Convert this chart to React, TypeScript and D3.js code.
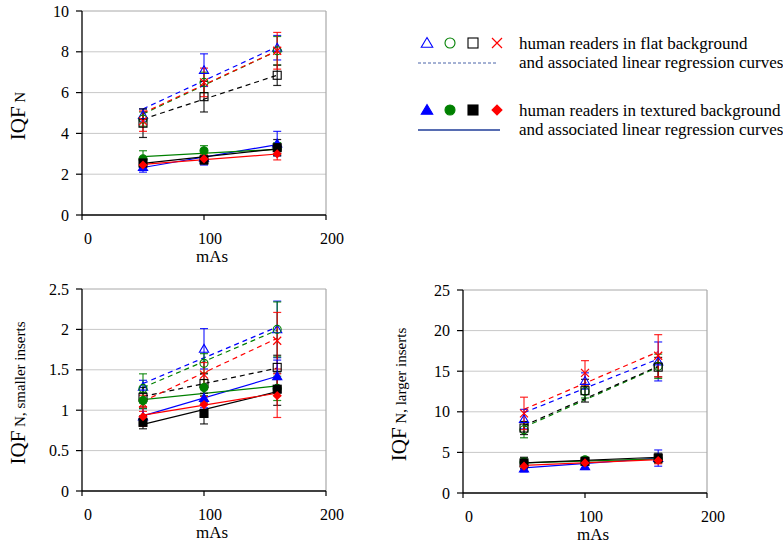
import React from "react";
import * as d3 from "d3";

// x positions (mAs) of the measured points and of the regression line ends
const mAs = [50, 100, 160];
const regEnds = [50, 160];
const xTicks = [0, 100, 200];

// series order in every array: blue, green, black, red
const seriesColors = ["#0000ff", "#008000", "#000000", "#ff0000"];
const flatShapes = ["triangle", "circle", "square", "cross"];
const texShapes = ["triangleFill", "circleFill", "squareFill", "diamondFill"];

// top panel: IQF N
const allFlat = [[4.9, 7.1, 8.2], [4.7, 6.5, 8.05], [4.5, 5.8, 6.85], [4.6, 6.5, 8.05]];
const allFlatErr = [[0.3, 0.8, 0.6], [0.35, 0.5, 0.7], [0.7, 0.75, 0.5], [0.5, 0.7, 0.9]];
const allFlatReg = [[5.2, 8.25], [4.95, 8.05], [4.7, 6.85], [5.0, 8.05]];
const allTex = [[2.35, 2.8, 3.5], [2.75, 3.15, 3.25], [2.55, 2.7, 3.3], [2.45, 2.75, 3.0]];
const allTexErr = [[0.25, 0.35, 0.6], [0.4, 0.25, 0.3], [0.2, 0.2, 0.4], [0.25, 0.2, 0.3]];
const allTexReg = [[2.33, 3.45], [2.86, 3.22], [2.53, 3.24], [2.48, 2.99]];
const allYTicks = [0, 2, 4, 6, 8, 10];

// bottom left: smaller inserts
const smallFlat = [[1.29, 1.76, 2.0], [1.27, 1.58, 2.0], [1.16, 1.33, 1.53], [1.085, 1.44, 1.86]];
const smallFlatErr = [[0.08, 0.25, 0.35], [0.18, 0.12, 0.34], [0.12, 0.12, 0.15], [0.1, 0.15, 0.35]];
const smallFlatReg = [[1.33, 2.03], [1.28, 1.99], [1.17, 1.52], [1.11, 1.89]];
const smallTex = [[0.92, 1.15, 1.42], [1.12, 1.28, 1.27], [0.85, 0.96, 1.26], [0.92, 1.07, 1.18]];
const smallTexErr = [[0.1, 0.12, 0.2], [0.1, 0.1, 0.15], [0.08, 0.13, 0.2], [0.12, 0.1, 0.27]];
const smallTexReg = [[0.93, 1.42], [1.13, 1.3], [0.825, 1.23], [0.94, 1.21]];
const smallYTicks = [0, 0.5, 1, 1.5, 2, 2.5];

// bottom right: larger inserts
const largeFlat = [[9.1, 13.8, 16.2], [7.8, 12.5, 15.6], [8.0, 12.6, 15.5], [9.8, 14.8, 16.9]];
const largeFlatErr = [[1.2, 1.0, 2.4], [1.0, 0.8, 1.5], [0.8, 1.4, 1.2], [2.0, 1.5, 2.6]];
const largeFlatReg = [[9.9, 16.5], [8.1, 15.5], [8.3, 15.6], [10.3, 17.4]];
const largeTex = [[3.0, 3.3, 4.3], [3.8, 4.1, 4.2], [3.7, 3.9, 4.3], [3.3, 3.7, 4.0]];
const largeTexErr = [[0.4, 0.4, 1.0], [0.5, 0.3, 0.5], [0.7, 0.4, 0.6], [0.5, 0.3, 0.4]];
const largeTexReg = [[3.1, 4.3], [3.7, 4.2], [3.7, 4.4], [3.4, 4.1]];
const largeYTicks = [0, 5, 10, 15, 20, 25];

const font = "Liberation Serif, Times New Roman, serif";

const Marker = ({ shape, cx, cy, color, s = 4 }) => {
  switch (shape) {
    case "triangle":
    case "triangleFill": {
      const p = `M${cx},${cy - s * 1.1}L${cx + s * 1.15},${cy + s * 0.85}L${cx - s * 1.15},${cy + s * 0.85}Z`;
      return <path d={p} fill={shape === "triangle" ? "none" : color} stroke={color} strokeWidth={1.1} />;
    }
    case "circle":
    case "circleFill":
      return <circle cx={cx} cy={cy} r={s} fill={shape === "circle" ? "none" : color} stroke={color} strokeWidth={1.1} />;
    case "square":
    case "squareFill":
      return (
        <rect x={cx - s} y={cy - s} width={s * 2} height={s * 2}
          fill={shape === "square" ? "none" : color} stroke={color} strokeWidth={1.1} />
      );
    case "diamondFill":
      return <path d={`M${cx},${cy - s * 1.15}L${cx + s * 1.15},${cy}L${cx},${cy + s * 1.15}L${cx - s * 1.15},${cy}Z`} fill={color} />;
    default:
      return (
        <path d={`M${cx - s},${cy - s}L${cx + s},${cy + s}M${cx - s},${cy + s}L${cx + s},${cy - s}`}
          stroke={color} strokeWidth={1.2} fill="none" />
      );
  }
};

const Panel = ({ x0, y0, w, h, yTicks, sub, flat, flatErr, flatReg, tex, texErr, texReg }) => {
  const x = d3.scaleLinear().domain([0, 200]).range([x0, x0 + w]);
  const y = d3.scaleLinear().domain([0, yTicks[yTicks.length - 1]]).range([y0 + h, y0]);
  const line = d3.line<number>().x((d, i) => x(regEnds[i])).y((d) => y(d));

  const drawRegs = (regs, dashed) =>
    regs.map((r, si) => (
      <path key={si} d={line(r) || ""} fill="none" stroke={seriesColors[si]} strokeWidth={1.2}
        strokeDasharray={dashed ? "5,4" : undefined} />
    ));

  const drawBars = (vals, errs) =>
    vals.map((row, si) =>
      row.map((v, i) => {
        const cx = x(mAs[i]);
        const top = y(v + errs[si][i]);
        const bot = y(v - errs[si][i]);
        return (
          <g key={`${si}-${i}`} stroke={seriesColors[si]} strokeWidth={1.2} strokeOpacity={0.85}>
            <line x1={cx} x2={cx} y1={top} y2={bot} />
            <line x1={cx - 4} x2={cx + 4} y1={top} y2={top} />
            <line x1={cx - 4} x2={cx + 4} y1={bot} y2={bot} />
          </g>
        );
      })
    );

  const drawMarkers = (vals, shapes) =>
    vals.map((row, si) =>
      row.map((v, i) => (
        <Marker key={`${si}-${i}`} shape={shapes[si]} cx={x(mAs[i])} cy={y(v)} color={seriesColors[si]} />
      ))
    );

  const fmt = d3.format("~g");

  return (
    <g>
      {yTicks.slice(1).map((t) => (
        <line key={t} x1={x0} x2={x0 + w} y1={y(t)} y2={y(t)}
          stroke={t === yTicks[yTicks.length - 1] ? "#a8a8a8" : "#c8c8c8"} strokeWidth={1} />
      ))}
      <line x1={x0 + w} x2={x0 + w} y1={y0} y2={y0 + h} stroke="#a8a8a8" strokeWidth={1.2} />
      {drawRegs(flatReg, true)}
      {drawRegs(texReg, false)}
      {drawBars(flat, flatErr)}
      {drawBars(tex, texErr)}
      {drawMarkers(flat, flatShapes)}
      {drawMarkers(tex, texShapes)}
      <line x1={x0} x2={x0} y1={y0} y2={y0 + h} stroke="#000" strokeWidth={1.3} />
      <line x1={x0} x2={x0 + w} y1={y0 + h} y2={y0 + h} stroke="#000" strokeWidth={1.3} />
      {yTicks.map((t) => (
        <g key={t}>
          <line x1={x0 - 6} x2={x0} y1={y(t)} y2={y(t)} stroke="#000" strokeWidth={1.2} />
          <text x={x0 - 13} y={y(t) + 5.5} textAnchor="end" fontSize={16}>{fmt(t)}</text>
        </g>
      ))}
      {xTicks.map((t) => (
        <g key={t}>
          <line x1={x(t)} x2={x(t)} y1={y0 + h} y2={y0 + h + 5} stroke="#000" strokeWidth={1.2} />
          <text x={x(t) + 6} y={y0 + h + 29} textAnchor="middle" fontSize={16}>{t}</text>
        </g>
      ))}
      <text x={x0 + w / 2 + 8} y={y0 + h + 47} textAnchor="middle" fontSize={17}>mAs</text>
      <text transform={`translate(${x0 - 57},${y0 + h / 2 + 3}) rotate(-90)`} textAnchor="middle" fontSize={21}>
        IQF<tspan fontSize={15}>{" " + sub}</tspan>
      </text>
    </g>
  );
};

const Legend = () => {
  const symX = [427, 450, 473, 497];
  return (
    <g fontSize={17}>
      {flatShapes.map((s, i) => (
        <Marker key={s} shape={s} cx={symX[i]} cy={43} color={seriesColors[i]} s={5} />
      ))}
      <text x={519} y={49}>human readers in flat background</text>
      <line x1={418} x2={497} y1={63} y2={63} stroke="#4a64a8" strokeWidth={1} strokeDasharray="3,2" />
      <text x={519} y={68}>and associated linear regression curves</text>
      {texShapes.map((s, i) => (
        <Marker key={s} shape={s} cx={symX[i]} cy={110} color={seriesColors[i]} s={5} />
      ))}
      <text x={519} y={116}>human readers in textured background</text>
      <line x1={418} x2={500} y1={130} y2={130} stroke="#1f3c99" strokeWidth={1.3} />
      <text x={519} y={135}>and associated linear regression curves</text>
    </g>
  );
}

export default function App() {
  return (
    <svg width={783} height={548}
      style={{ position: "absolute", left: 0, top: 0, background: "#fff", fontFamily: font, fill: "#000" }}>
      <Panel x0={82} y0={11} w={244} h={204} yTicks={allYTicks} sub="N"
        flat={allFlat} flatErr={allFlatErr} flatReg={allFlatReg}
        tex={allTex} texErr={allTexErr} texReg={allTexReg} />
      <Panel x0={82} y0={289} w={244} h={202} yTicks={smallYTicks} sub="N, smaller inserts"
        flat={smallFlat} flatErr={smallFlatErr} flatReg={smallFlatReg}
        tex={smallTex} texErr={smallTexErr} texReg={smallTexReg} />
      <Panel x0={463} y0={290} w={244} h={203} yTicks={largeYTicks} sub="N, larger inserts"
        flat={largeFlat} flatErr={largeFlatErr} flatReg={largeFlatReg}
        tex={largeTex} texErr={largeTexErr} texReg={largeTexReg} />
      <Legend />
    </svg>
  );
}
